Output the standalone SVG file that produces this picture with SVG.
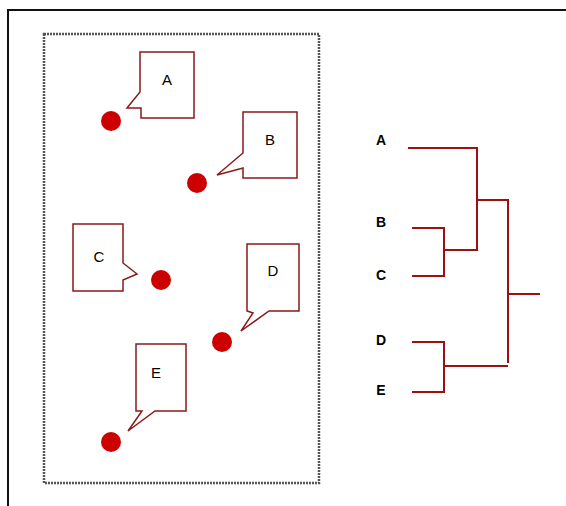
<svg xmlns="http://www.w3.org/2000/svg" width="566" height="506" viewBox="0 0 566 506">
<style>
.call{fill:#fff;stroke:#8b1a1a;stroke-width:1.5}
.dot{fill:#cc0000}
.lbl{font-family:"Liberation Sans",Arial,sans-serif;font-size:15px;fill:#000;text-anchor:middle}
.dl{font-family:"Liberation Sans",Arial,sans-serif;font-size:14px;font-weight:bold;fill:#000;text-anchor:middle}
.tree{fill:none;stroke:#9b1111;stroke-width:2}
</style>
<rect width="566" height="506" fill="#fff"/>
<path d="M8,506 V10 H566" fill="none" stroke="#111" stroke-width="2"/>
<rect x="44" y="34" width="275" height="449" fill="none" stroke="#555" stroke-width="2.5" stroke-dasharray="2,1"/>
<g id="nodeA">
<path class="call" d="M140,52 H194 V118 H141 V108 H127 L140,92 Z"/>
<circle class="dot" cx="111" cy="121" r="10"/>
<text class="lbl" x="167" y="85">A</text>
</g>
<g id="nodeB">
<path class="call" d="M243,112 H297 V178 H243 V168 L217,175 L243,153 Z"/>
<circle class="dot" cx="197" cy="183" r="10"/>
<text class="lbl" x="270" y="145">B</text>
</g>
<g id="nodeC">
<path class="call" d="M73,224 H123 V263 L137,274 L123,280 V291 H73 Z"/>
<circle class="dot" cx="161" cy="280" r="10"/>
<text class="lbl" x="99" y="262">C</text>
</g>
<g id="nodeD">
<path class="call" d="M247,244 H299 V311 H269 L241,331 L253,313 L247,311 Z"/>
<circle class="dot" cx="222" cy="342" r="10"/>
<text class="lbl" x="273" y="276">D</text>
</g>
<g id="nodeE">
<path class="call" d="M136,344 H186 V411 H155 L128,431 L142,411 H136 Z"/>
<circle class="dot" cx="111" cy="442" r="10"/>
<text class="lbl" x="156" y="378">E</text>
</g>
<g id="dendrogram-labels">
<text class="dl" x="381" y="145">A</text>
<text class="dl" x="381" y="227">B</text>
<text class="dl" x="381" y="280">C</text>
<text class="dl" x="381" y="345">D</text>
<text class="dl" x="381" y="395">E</text>
</g>
<g id="connectors">
<path class="tree" d="M408,148 H477 V250 H444"/>
<path class="tree" d="M412,228 H444 V276 H412"/>
<path class="tree" d="M477,200 H508 V363"/>
<path class="tree" d="M444,366 H508"/>
<path class="tree" d="M412,342 H444 V392 H412"/>
<path class="tree" d="M508,294 H540"/>
</g>
</svg>
